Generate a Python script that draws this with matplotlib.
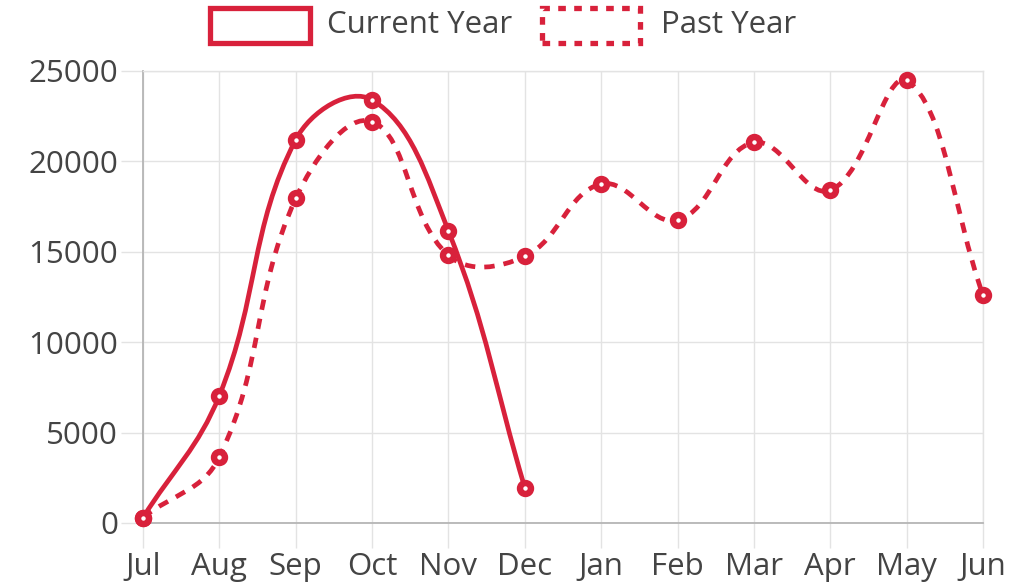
import numpy as np
import matplotlib
matplotlib.use('Agg')
import matplotlib.pyplot as plt
from matplotlib.path import Path
from matplotlib.patches import PathPatch, Rectangle

plt.rcParams['font.family'] = ['Open Sans', 'DejaVu Sans']
plt.rcParams['lines.scale_dashes'] = False

months = ['Jul', 'Aug', 'Sep', 'Oct', 'Nov', 'Dec', 'Jan', 'Feb', 'Mar', 'Apr', 'May', 'Jun']
current_year = [300, 7050, 21200, 23400, 16150, 1950]
past_year = [300, 3650, 17950, 22200, 14800, 14750, 18750, 16750, 21050, 18400, 24500, 12600]
yticks = [0, 5000, 10000, 15000, 20000, 25000]

red = '#d8213b'
text_col = '#444444'
W, H = 1014, 588

fig = plt.figure(figsize=(W / 100, H / 100), dpi=100)
ax = fig.add_axes([143 / W, 1 - 523 / H, (983 - 143) / W, (523 - 71) / H])
ax.set_xlim(0, len(months) - 1)
ax.set_ylim(0, 25000)

# pixels per data unit, so the spline bends like the chart.js one on screen
sx = (983 - 143) / (len(months) - 1)
sy = (523 - 71) / 25000


def spline_path(vals, tension=0.4):
    p = np.array([[i * sx, v * sy] for i, v in enumerate(vals)], dtype=float)
    n = len(p)
    lim = np.array([(n - 1) * sx, 25000 * sy])
    cp_in, cp_out = [], []
    for i in range(n):
        prev = p[i - 1] if i > 0 else p[i]
        nxt = p[i + 1] if i < n - 1 else p[i]
        d01 = np.hypot(*(p[i] - prev))
        d12 = np.hypot(*(nxt - p[i]))
        tot = d01 + d12
        s01 = d01 / tot if tot else 0
        s12 = d12 / tot if tot else 0
        cp_in.append(np.clip(p[i] - tension * s01 * (nxt - prev), 0, lim))
        cp_out.append(np.clip(p[i] + tension * s12 * (nxt - prev), 0, lim))
    verts = [p[0]]
    codes = [Path.MOVETO]
    for i in range(n - 1):
        verts += [cp_out[i], cp_in[i + 1], p[i + 1]]
        codes += [Path.CURVE4] * 3
    verts = np.array(verts) / np.array([sx, sy])
    return Path(verts, codes)


ax.add_patch(PathPatch(spline_path(past_year), fill=False, edgecolor=red, lw=3.4,
                       linestyle=(0, (7.5, 6.5)), capstyle='butt', zorder=3))
ax.plot(range(len(past_year)), past_year, 'o', ms=7.9, mew=4.6, mec=red, mfc='white',
        ls='none', zorder=4, clip_on=False)
ax.add_patch(PathPatch(spline_path(current_year), fill=False, edgecolor=red, lw=3.4,
                       capstyle='round', zorder=5))
ax.plot(range(len(current_year)), current_year, 'o', ms=7.9, mew=4.6, mec=red, mfc='white',
        ls='none', zorder=6, clip_on=False)

ax.set_xticks(range(len(months)))
ax.set_xticklabels(months)
ax.set_yticks(yticks)
ax.set_yticklabels([str(v) for v in yticks])
ax.grid(True, color='#e3e3e3', lw=1)
ax.set_axisbelow(True)
ax.tick_params(axis='both', width=1, color='#e3e3e3', labelsize=22.5,
               labelcolor=text_col)
ax.tick_params(axis='x', length=18, pad=3)
ax.tick_params(axis='y', length=16, pad=2)
for s in ['top', 'right']:
    ax.spines[s].set_color('#e3e3e3')
    ax.spines[s].set_linewidth(1)
for s in ['left', 'bottom']:
    ax.spines[s].set_color('#b5b5b5')
    ax.spines[s].set_linewidth(1.3)


# legend drawn by hand, boxes like chart.js
def fx(px):
    return px / W


def fy(py):
    return 1 - py / H


fig.add_artist(Rectangle((fx(210), fy(43)), fx(310) - fx(210), fy(8) - fy(43),
                         transform=fig.transFigure, facecolor='white', edgecolor=red,
                         lw=3.8))
fig.text(fx(327), fy(25), 'Current Year', fontsize=22.5, color=text_col, va='center')
fig.add_artist(Rectangle((fx(542), fy(43)), fx(640) - fx(542), fy(8) - fy(43),
                         transform=fig.transFigure, facecolor='white', edgecolor=red,
                         lw=3.8, linestyle=(0, (5.5, 6))))
fig.text(fx(661), fy(25), 'Past Year', fontsize=22.5, color=text_col, va='center')

fig.savefig('out.png', dpi=100)
